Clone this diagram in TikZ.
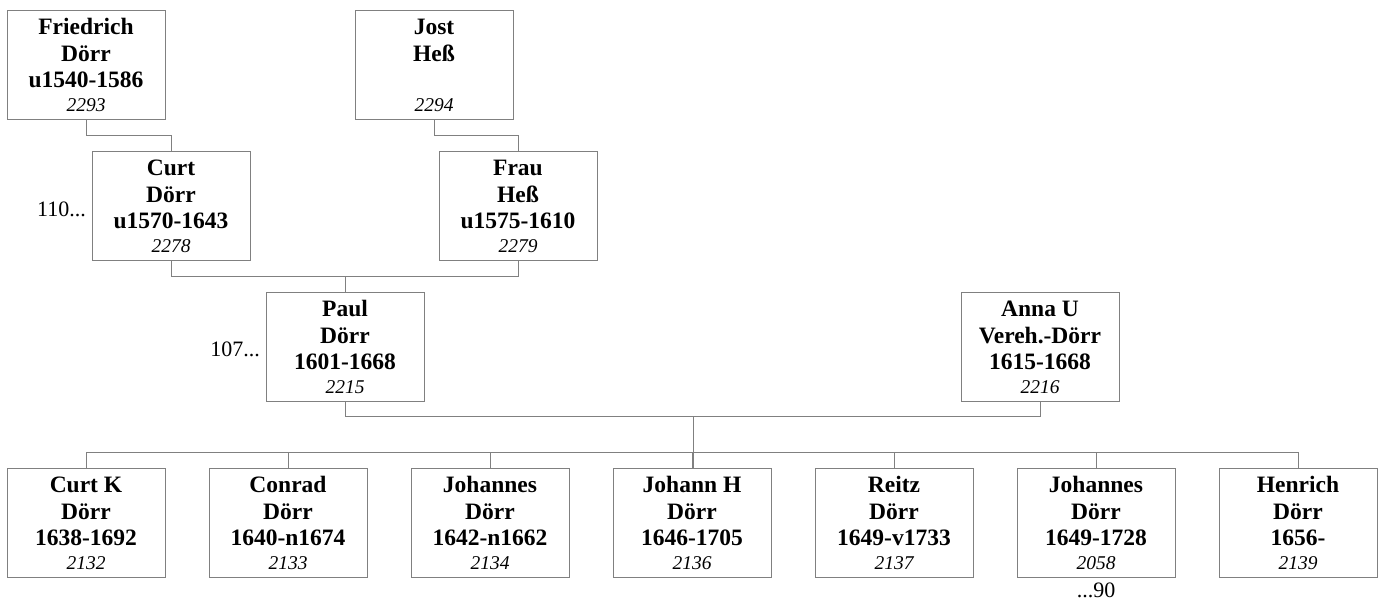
\documentclass[tikz,border=0pt]{standalone}
\usepackage{fontspec}
\setmainfont{Liberation Serif}
\usetikzlibrary{calc}
\definecolor{linegray}{RGB}{128,128,128}
\tikzset{
  pbox/.style={draw=linegray, line width=0.9pt, minimum width=158pt, minimum height=109pt, inner sep=0pt, anchor=north west},
  btxt/.style={anchor=base, inner sep=0pt, font=\fontsize{23.5}{26}\selectfont\bfseries},
  itxt/.style={anchor=base, inner sep=0pt, font=\fontsize{19.5}{22}\selectfont\itshape},
  ntxt/.style={inner sep=0pt, font=\fontsize{22}{24}\selectfont},
  conn/.style={draw=linegray, line width=0.9pt},
}
\newcommand{\personbox}[7]{%
  \node[pbox] (#1) at (#2,#3) {};
  \node[btxt] (#1-a) at (#2+79,#3+24.5) {#4};
  \node[btxt] (#1-b) at (#2+79,#3+51.5) {#5};
  \node[btxt] (#1-c) at (#2+79,#3+77.5) {#6};
  \node[itxt] (#1-d) at (#2+79,#3+101) {#7};
}
\begin{document}
\begin{tikzpicture}[x=1pt,y=-1pt]
\fill[white] (0,0) rectangle (1382,602);
\useasboundingbox (0,0) rectangle (1382,602);

\personbox{f}{7}{10}{Friedrich}{Dörr}{u1540-1586}{2293}
\personbox{j}{355}{10}{Jost}{Heß}{}{2294}
\personbox{c}{92}{151}{Curt}{Dörr}{u1570-1643}{2278}
\personbox{h}{439}{151}{Frau}{Heß}{u1575-1610}{2279}
\personbox{p}{266}{292}{Paul}{Dörr}{1601-1668}{2215}
\personbox{a}{961}{292}{Anna U}{Vereh.-Dörr}{1615-1668}{2216}

\personbox{k1}{7}{468}{Curt K}{Dörr}{1638-1692}{2132}
\personbox{k2}{209}{468}{Conrad}{Dörr}{1640-n1674}{2133}
\personbox{k3}{411}{468}{Johannes}{Dörr}{1642-n1662}{2134}
\personbox{k4}{613}{468}{Johann H}{Dörr}{1646-1705}{2136}
\personbox{k5}{815}{468}{Reitz}{Dörr}{1649-v1733}{2137}
\personbox{k6}{1017}{468}{Johannes}{Dörr}{1649-1728}{2058}
\personbox{k7}{1219}{468}{Henrich}{Dörr}{1656-}{2139}

\node[ntxt, anchor=base east] (l110) at (86,216) {110...};
\node[ntxt, anchor=base east] (l107) at (260,356) {107...};
\node[ntxt, anchor=base] (l90) at (1096,597) {...90};

\draw[conn] (f.south) -- ++(0,16) -| (c.north);
\draw[conn] (j.south) -- ++(0,16) -| (h.north);
\draw[conn] (c.south) -- ++(0,16) -| (h.south);
\coordinate (ch) at ($(c.south)!0.5!(h.south)+(0,16)$);
\draw[conn] (ch) -- (ch |- p.north);
\draw[conn] (p.south) -- ++(0,15) -| (a.south);
\coordinate (pa) at ($(p.south)!0.5!(a.south)+(0,15)$);
\draw[conn] (pa) -- (pa |- k4.north);
\draw[conn] (k1.north) -- ++(0,-16) -| (k7.north);
\foreach \i in {2,...,6} { \draw[conn] (k\i.north) -- ++(0,-16); }
\end{tikzpicture}
\end{document}
